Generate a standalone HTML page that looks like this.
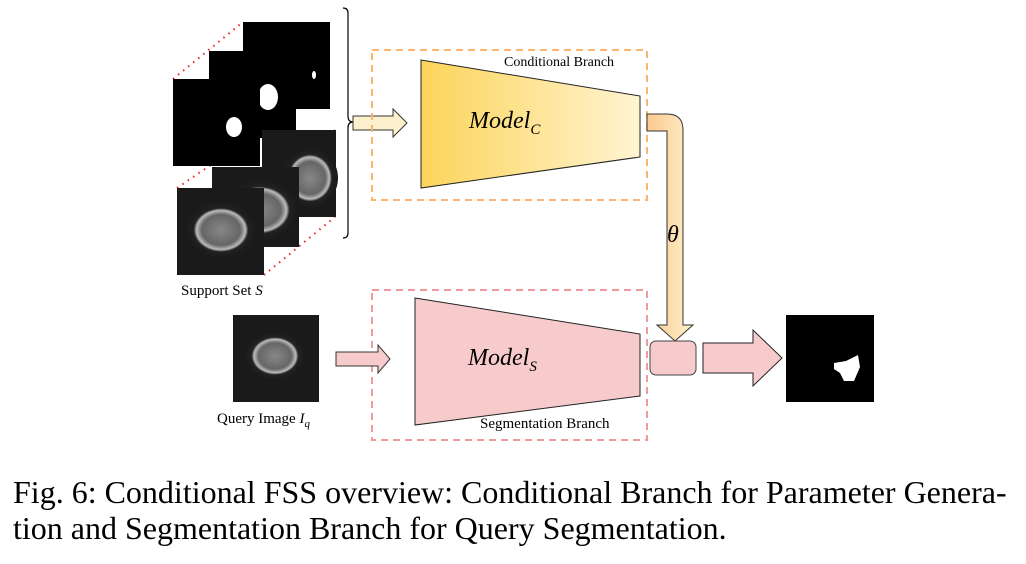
<!DOCTYPE html>
<html><head><style>
body{margin:0;width:1026px;height:564px;background:#fff;overflow:hidden;position:relative;font-family:"Liberation Serif",serif}
.t{position:absolute;white-space:nowrap}
</style></head><body>
<svg width="1026" height="564" style="position:absolute;left:0;top:0">
<defs>
<linearGradient id="go" x1="0" x2="1"><stop offset="0" stop-color="#fcd45a"/><stop offset="1" stop-color="#fff4d2"/></linearGradient>
<linearGradient id="ga" x1="0" x2="1"><stop offset="0" stop-color="#fbc98e"/><stop offset="1" stop-color="#fff0cc"/></linearGradient>
<radialGradient id="ct"><stop offset="0" stop-color="#888"/><stop offset="0.55" stop-color="#666"/><stop offset="0.7" stop-color="#bbb"/><stop offset="0.78" stop-color="#222"/><stop offset="1" stop-color="#1a1a1a"/></radialGradient>
</defs>
<g stroke="#e22" stroke-width="2" stroke-dasharray="1.5,5">
<line x1="173" y1="79" x2="243" y2="22"/><line x1="260" y1="79" x2="330" y2="22"/>
<line x1="177" y1="188" x2="262" y2="130"/><line x1="264" y1="275" x2="335" y2="217"/>
<line x1="264" y1="188" x2="335" y2="130"/>
</g>
<rect x="243" y="22" width="87" height="87" fill="#000"/>
<ellipse cx="314" cy="75" rx="2" ry="4" fill="#fff"/>
<rect x="209" y="51" width="87" height="87" fill="#000"/>
<ellipse cx="268" cy="97" rx="10" ry="13" fill="#fff"/>
<rect x="173" y="79" width="87" height="87" fill="#000"/>
<ellipse cx="234" cy="127" rx="8" ry="10" fill="#fff"/>
<rect x="262" y="130" width="74" height="87" fill="#1a1a1a"/>
<ellipse cx="310" cy="178" rx="28" ry="30" fill="url(#ct)"/>
<rect x="212" y="167" width="87" height="80" fill="#1a1a1a"/>
<ellipse cx="260" cy="210" rx="38" ry="30" fill="url(#ct)"/>
<rect x="177" y="188" width="87" height="87" fill="#1a1a1a"/>
<ellipse cx="221" cy="230" rx="35" ry="28" fill="url(#ct)"/>
<path d="M343 8 q5 0 5 5 v103 q0 6 5 6 q-5 0 -5 6 v105 q0 5 -5 5" fill="none" stroke="#000" stroke-width="1.2"/>
<path d="M353 116 h40 v-7 l14 14 l-14 14 v-7 h-40z" fill="#fdf0cc" stroke="#333"/>
<rect x="372" y="50" width="275" height="150" fill="none" stroke="#fdb46e" stroke-width="2" stroke-dasharray="7,5"/>
<path d="M421 60 L640 96 L640 157 L421 188Z" fill="url(#go)" stroke="#222"/>
<path d="M647 114 h20 q16 0 16 16 v195 h10 l-18 16 l-18 -16 h10 v-194 h-20z" fill="url(#ga)" stroke="#333"/>
<rect x="372" y="290" width="275" height="150" fill="none" stroke="#f29a9a" stroke-width="2" stroke-dasharray="7,5"/>
<path d="M415 298 L640 334 L640 396 L415 425Z" fill="#f7cbcb" stroke="#222"/>
<path d="M336 352 h42 v-7 l12 14 l-12 14 v-7 h-42z" fill="#f7cbcb" stroke="#333"/>
<rect x="650" y="341" width="46" height="34" rx="6" fill="#f7cbcb" stroke="#444"/>
<path d="M703 343 h50 v-13 l29 28 l-29 28 v-13 h-50z" fill="#f7cbcb" stroke="#222"/>
<rect x="233" y="315" width="86" height="87" fill="#1a1a1a"/>
<ellipse cx="275" cy="356" rx="30" ry="24" fill="url(#ct)"/>
<rect x="786" y="315" width="88" height="87" fill="#000"/>
<path d="M834 363 l12 -2 l12 -6 l2 12 l-6 14 l-10 0 l-4 -8 l-6 -4z" fill="#fff"/>
</svg>
<div class="t" style="left:504px;top:55px;font-size:14px">Conditional Branch</div>
<div class="t" style="left:469px;top:108px;font-size:24px;font-style:italic">Model<sub style="font-size:15px">C</sub></div>
<div class="t" style="left:468px;top:345px;font-size:24px;font-style:italic">Model<sub style="font-size:15px">S</sub></div>
<div class="t" style="left:480px;top:416px;font-size:15px">Segmentation Branch</div>
<div class="t" style="left:667px;top:222px;font-size:24px;font-style:italic">θ</div>
<div class="t" style="left:181px;top:283px;font-size:15px">Support Set <i>S</i></div>
<div class="t" style="left:217px;top:411px;font-size:15px">Query Image <i>I<sub style="font-size:11px">q</sub></i></div>
<div class="t" style="left:13px;top:474px;font-size:32px">Fig. 6: Conditional FSS overview: Conditional Branch for Parameter Genera-</div>
<div class="t" style="left:13px;top:510px;font-size:32px">tion and Segmentation Branch for Query Segmentation.</div>
</body></html>
